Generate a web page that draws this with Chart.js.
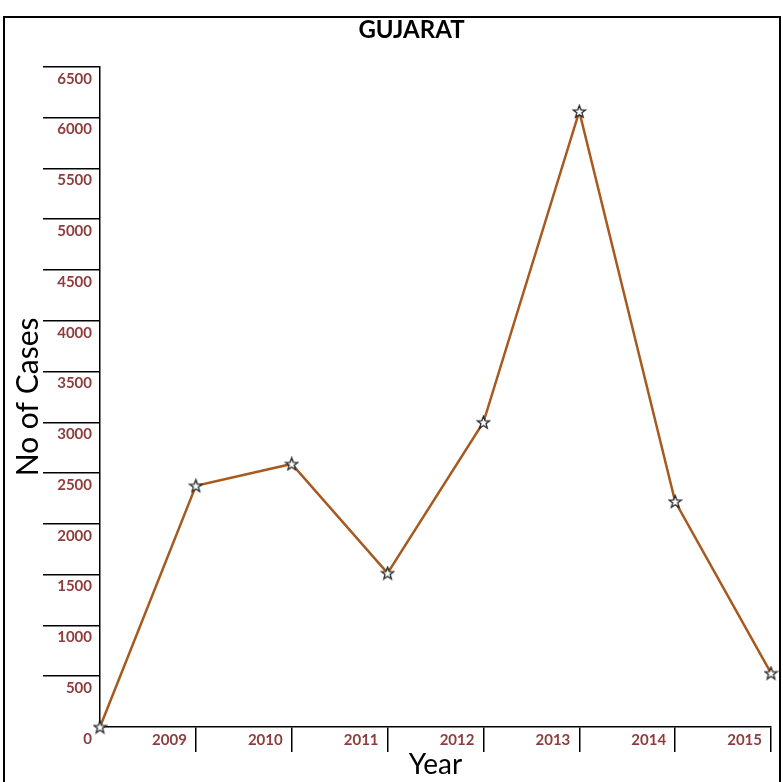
<!DOCTYPE html>
<html><head><meta charset="utf-8">
<script src="https://cdn.jsdelivr.net/npm/chart.js@4/dist/chart.umd.min.js"></script>
<style>
html,body{margin:0;padding:0;background:#fff;overflow:hidden;}
#wrap{position:relative;width:783px;height:782px;}
#frame{position:absolute;left:3px;top:16px;width:778px;height:800px;border:2px solid #000;box-sizing:border-box;pointer-events:none;}
canvas{position:absolute;left:0;top:0;}
</style></head><body>
<div id="wrap"><canvas id="c" width="783" height="782"></canvas><div id="frame"></div></div>
<script>
const categories = ['', '2009', '2010', '2011', '2012', '2013', '2014', '2015'];
const cases = [0, 2375, 2590, 1515, 3000, 6060, 2220, 530];
const yTickValues = [0, 500, 1000, 1500, 2000, 2500, 3000, 3500, 4000, 4500, 5000, 5500, 6000, 6500];

const labelColor = '#8E3D3D';

// five-pointed outline star used as the marker
const star = document.createElement('canvas');
star.width = 15; star.height = 15;
(function(){
  const g = star.getContext('2d');
  const cx = 7.5, cy = 8, ro = 6.5, ri = 2.7;
  g.beginPath();
  for (let i = 0; i < 10; i++) {
    const r = i % 2 ? ri : ro;
    const a = -Math.PI / 2 + i * Math.PI / 5;
    const px = cx + r * Math.cos(a), py = cy + r * Math.sin(a);
    if (i === 0) g.moveTo(px, py); else g.lineTo(px, py);
  }
  g.closePath();
  g.fillStyle = '#fff'; g.fill();
  g.lineWidth = 1.3; g.strokeStyle = '#222'; g.stroke();
})();

const tickFont = {family: 'Lato', weight: 'bold', size: 15};
const hideFirst = ctx => ctx.index === 0 ? 'rgba(0,0,0,0)' : '#000';
const padLeft = 52;

new Chart(document.getElementById('c'), {
  type: 'line',
  data: {
    labels: categories,
    datasets: [{
      data: cases,
      borderColor: '#A65A1F',
      borderWidth: 2.5,
      tension: 0,
      fill: false,
      pointStyle: star,
      pointRadius: 7,
      clip: false
    }]
  },
  options: {
    responsive: false,
    animation: false,
    devicePixelRatio: 1,
    layout: {padding: {left: padLeft, right: 12, top: 0, bottom: 0}},
    plugins: {
      legend: {display: false},
      tooltip: {enabled: false},
      title: {
        display: true, text: 'GUJARAT', color: '#000',
        font: {family: 'Lato', weight: 'bold', size: 24},
        padding: {top: 16, bottom: 22}
      }
    },
    scales: {
      x: {
        type: 'category',
        offset: false,
        grid: {offset: false, drawOnChartArea: false, drawTicks: true, tickLength: 25, color: hideFirst, lineWidth: 1.5},
        border: {display: true, color: '#000', width: 1.5},
        ticks: {align: 'end', labelOffset: -9, padding: -21, color: labelColor, font: tickFont, autoSkip: false, maxRotation: 0},
        title: {display: true, text: 'Year', color: '#000', font: {family: 'Lato', size: 28}, padding: {top: 0, bottom: 0}},
        afterFit: s => { s.height = 55; }
      },
      y: {
        type: 'linear',
        min: 0, max: 6500,
        afterBuildTicks: s => { s.ticks = yTickValues.map(v => ({value: v})); },
        grid: {drawOnChartArea: false, drawTicks: true, tickLength: 57, color: hideFirst, lineWidth: 1.5},
        border: {display: true, color: '#000', width: 1.5},
        ticks: {padding: -49, labelOffset: 12, color: labelColor, font: tickFont, callback: v => String(v)},
        title: {display: true, text: 'No of Cases', color: '#000', font: {family: 'Lato', size: 30}, padding: {top: 28 - padLeft - 18, bottom: 0}},
        afterFit: s => { s.width = 100 - padLeft; }
      }
    }
  }
});
</script>
</body></html>
